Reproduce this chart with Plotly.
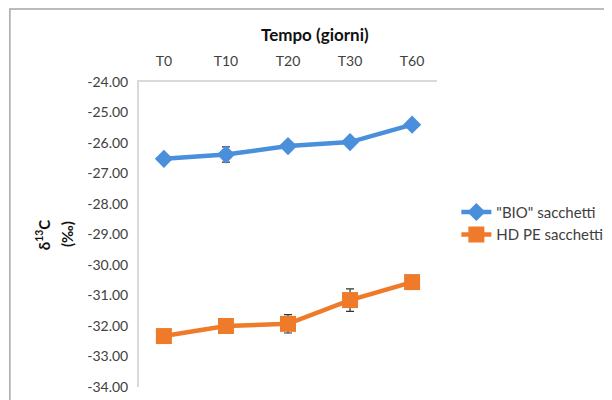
import plotly.graph_objects as go

tempo = ['T0', 'T10', 'T20', 'T30', 'T60']

bio_mean = [-26.52, -26.38, -26.10, -25.97, -25.40]
bio_err = [0.05, 0.25, 0.07, 0.06, 0.05]

hdpe_mean = [-32.33, -32.00, -31.93, -31.15, -30.56]
hdpe_err = [0.05, 0.05, 0.30, 0.37, 0.05]

y_ticks = [-24, -25, -26, -27, -28, -29, -30, -31, -32, -33, -34]

fig = go.Figure()

fig.add_scatter(
    x=tempo, y=bio_mean, name='"BIO" sacchetti',
    mode='lines+markers',
    line=dict(color='#4a8fdb', width=4.5),
    marker=dict(symbol='diamond', size=14, color='#4a8fdb'),
    error_y=dict(type='data', array=bio_err, color='#333333', thickness=1.2, width=4),
)

fig.add_scatter(
    x=tempo, y=hdpe_mean, name='HD PE sacchetti',
    mode='lines+markers',
    line=dict(color='#ef7b2a', width=4.5),
    marker=dict(symbol='square', size=16, color='#ef7b2a'),
    error_y=dict(type='data', array=hdpe_err, color='#333333', thickness=1.2, width=4),
)

#### outer frame
fig.add_shape(
    type='rect', xref='paper', yref='paper',
    x0=-0.4333, x1=1.8, y0=-0.2, y1=1.2393,
    line=dict(color='#a6a6a6', width=1.5),
)

#### x title (sits right of centre in the original)
fig.add_annotation(
    text='<b>Tempo (giorni)</b>', xref='paper', yref='paper',
    x=0.59, y=1.157, xanchor='center', yanchor='middle', showarrow=False,
    font=dict(size=17, color='#111111'),
)

#### y title, two rotated lines
fig.add_annotation(
    text='<b>δ<sup>13</sup>C</b>', xref='paper', yref='paper',
    x=-0.323, y=0.5, xanchor='center', yanchor='middle', showarrow=False,
    textangle=-90, font=dict(size=15, color='#111111'),
)
fig.add_annotation(
    text='<b>(‰)</b>', xref='paper', yref='paper',
    x=-0.243, y=0.5, xanchor='center', yanchor='middle', showarrow=False,
    textangle=-90, font=dict(size=15, color='#111111'),
)

fig.update_xaxes(
    side='top', automargin=False,
    showline=True, linecolor='#d9d9d9', linewidth=2,
    ticks='', ticklabelstandoff=8, tickfont=dict(size=14, color='#404040'),
    showgrid=False,
)

fig.update_yaxes(
    range=[-34, -24], automargin=False,
    tickvals=y_ticks,
    ticktext=[f"{v:.2f}" for v in y_ticks],
    showline=True, linecolor='#d9d9d9', linewidth=2,
    ticks='', ticklabelstandoff=6, tickfont=dict(size=14, color='#404040'),
    showgrid=False, zeroline=False,
)

fig.update_layout(
    width=612, height=400,
    margin=dict(l=131, r=181, t=74, b=21),
    paper_bgcolor='white', plot_bgcolor='white',
    font=dict(family='Lato, Open Sans, sans-serif'),
    showlegend=True,
    legend=dict(x=1.065, y=0.627, xanchor='left', yanchor='top',
                font=dict(size=15, color='#404040'), tracegroupgap=0,
                itemwidth=30),
)

fig.write_html('out.html')
